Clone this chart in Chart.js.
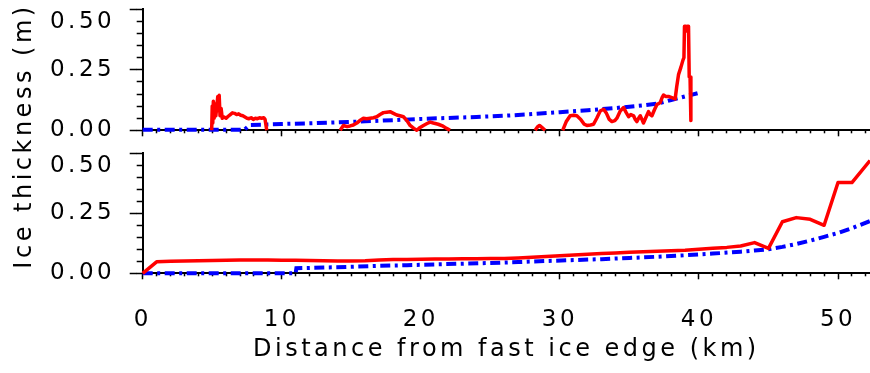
<!DOCTYPE html>
<html>
<head>
<meta charset="utf-8">
<script src="https://cdn.jsdelivr.net/npm/chart.js@4.4.1/dist/chart.umd.min.js"></script>
<style>
  html, body { margin: 0; padding: 0; background: #fff; width: 870px; height: 373px; overflow: hidden; }
  canvas { position: absolute; left: 0; }
  #cTop { top: 0; }
  #cBot { top: 140px; }
  #ytitle {
    position: absolute; left: -127px; top: 120.75px; width: 300px; height: 30px;
    line-height: 30px; text-align: center; white-space: nowrap;
    transform: rotate(-90deg);
    font-family: "DejaVu Sans"; font-size: 24px; letter-spacing: 3.5px; color: #000;
  }
</style>
</head>
<body>
<canvas id="cTop" width="870" height="142"></canvas>
<canvas id="cBot" width="870" height="233"></canvas>
<div id="ytitle">Ice thickness (m)</div>
<script>
// ---- profile data: distance (km) and ice thickness (m); null breaks a segment ----
const topObsKm = [
  4.96, 5.0, 5.04, 5.08, 5.14, 5.2, 5.26, 5.33, 5.4, 5.46, 5.5, 5.56, 5.64, 5.72, 5.85, 6.0, 6.15, 6.3,
  6.45, 6.6, 6.75, 6.9, 7.05, 7.2, 7.35, 7.5, 7.65, 7.8, 7.95, 8.1, 8.25, 8.4, 8.55, 8.7, 8.8, 8.92,
  9.0,
  14.2, 14.43, 14.7, 14.91, 15.15, 15.4, 15.65, 15.87, 16.1, 16.35, 16.6, 16.83, 17.07, 17.31, 17.55,
  17.79, 18.03, 18.27, 18.5, 18.75, 19.0, 19.23, 19.5, 19.71, 19.95, 20.19, 20.45, 20.67, 20.9, 21.25,
  21.6, 21.85, 22.1,
  22.2,
  28.22, 28.4, 28.53, 28.7, 28.94,
  29.0,
  30.2, 30.45, 30.74, 31.0, 31.22, 31.5, 31.75, 31.94, 32.2, 32.42, 32.65, 32.9, 33.14, 33.35, 33.55,
  33.74, 33.95, 34.1, 34.34, 34.58, 34.75, 34.94, 35.1, 35.3, 35.42, 35.54, 35.66, 35.78, 35.9, 36.01,
  36.2, 36.37, 36.5, 36.62, 36.8, 36.98, 37.1, 37.22, 37.35, 37.45, 37.6, 37.81, 38.05, 38.29, 38.4,
  38.53, 38.7, 38.85, 38.92, 38.96, 39.05, 39.12, 39.18, 39.25, 39.3, 39.36, 39.42
];
const topObsM = [
  0.0, 0.10, 0.03, 0.12, 0.05, 0.11, 0.06, 0.10, 0.14, 0.08, 0.145, 0.06, 0.09, 0.05, 0.055, 0.05, 0.058, 0.065,
  0.072, 0.07, 0.065, 0.068, 0.062, 0.06, 0.055, 0.05, 0.048, 0.052, 0.045, 0.05, 0.048, 0.052, 0.05, 0.052, 0.045, 0.0,
  null,
  0.0, 0.02, 0.015, 0.018, 0.022, 0.03, 0.042, 0.05, 0.048, 0.05, 0.052, 0.056, 0.065, 0.073, 0.075,
  0.077, 0.07, 0.063, 0.06, 0.056, 0.04, 0.02, 0.008, 0.0, 0.012, 0.02, 0.028, 0.034, 0.03, 0.025,
  0.017, 0.008, 0.0,
  null,
  0.0, 0.015, 0.02, 0.012, 0.0,
  null,
  0.0, 0.035, 0.06, 0.062, 0.06, 0.045, 0.025, 0.02, 0.022, 0.025, 0.05, 0.08, 0.087, 0.07, 0.045,
  0.036, 0.04, 0.05, 0.08, 0.094, 0.075, 0.056, 0.065, 0.06, 0.045, 0.036, 0.05, 0.06, 0.045, 0.03,
  0.055, 0.077, 0.065, 0.06, 0.085, 0.107, 0.11, 0.115, 0.135, 0.146, 0.14, 0.14, 0.135, 0.13, 0.18,
  0.23, 0.26, 0.29, 0.30, 0.43, 0.43, 0.41, 0.43, 0.43, 0.22, 0.22, 0.04
];
const topModelKm = [0, 7.3, 7.7, 10, 12, 14, 16, 18, 20, 22, 24, 26, 28, 30, 32, 34, 36, 37, 38, 39, 39.9];
const topModelM  = [0.002, 0.002, 0.022, 0.026, 0.029, 0.033, 0.037, 0.042, 0.047, 0.051, 0.055, 0.06,
                    0.067, 0.075, 0.083, 0.092, 0.103, 0.11, 0.125, 0.14, 0.153];

const botObsKm = [0, 1, 2, 3, 4, 5, 6, 7, 8, 9, 10, 11, 12, 13, 14, 15, 16, 17, 18, 19, 20, 21, 22, 23, 24,
                  25, 26, 27, 28, 29, 30, 31, 32, 33, 34, 35, 36, 37, 38, 39, 40, 41, 42, 43, 44, 45, 46,
                  47, 48, 49, 50, 51, 52.3];
const botObsM  = [0, 0.048, 0.05, 0.051, 0.052, 0.053, 0.054, 0.055, 0.055, 0.055, 0.054, 0.054, 0.053,
                  0.052, 0.051, 0.051, 0.052, 0.055, 0.057, 0.058, 0.059, 0.06, 0.06, 0.061, 0.061, 0.062,
                  0.062, 0.064, 0.067, 0.07, 0.073, 0.076, 0.079, 0.082, 0.085, 0.088, 0.09, 0.092, 0.094,
                  0.096, 0.10, 0.104, 0.108, 0.114, 0.128, 0.104, 0.215, 0.232, 0.225, 0.20, 0.378, 0.378, 0.47];
const botModelKm = [0, 11, 11.05, 13, 15, 17, 19, 21, 23, 25, 27, 29, 31, 33, 35, 37, 39, 41, 43, 44, 45,
                    46, 47, 48, 49, 50, 51, 52.3];
const botModelM  = [0, 0, 0.021, 0.024, 0.027, 0.031, 0.034, 0.037, 0.04, 0.043, 0.047, 0.051, 0.055, 0.059,
                    0.064, 0.069, 0.075, 0.082, 0.09, 0.095, 0.10, 0.11, 0.122, 0.136, 0.152, 0.168, 0.188, 0.218];

// ---- axis ticks ----
const xMajorTicks = [0, 10, 20, 30, 40, 50];
const yMajorTicks = [0, 0.25, 0.5];
const X_MAX = 52.3;
const Y_MAX = 0.5;
const X_MINOR_STEP = 1;
const Y_MINOR_STEP = 0.05;

const FONT = 'DejaVu Sans';
Chart.defaults.font.family = FONT;
Chart.defaults.color = '#000';

function pts(km, m) { return km.map((k, i) => ({ x: k, y: m[i] })); }
function seq(from, to, step) {
  const out = [];
  const n = Math.round((to - from) / step);
  for (let i = 0; i <= n; i++) out.push({ value: Math.round((from + i * step) * 1000) / 1000 });
  return out;
}

// wider glyph spacing for all canvas text
const textSpacing = { id: 'textSpacing', beforeDraw(chart) { chart.ctx.letterSpacing = '3.5px'; } };

// fixed axis sizes, without the extra room Chart.js reserves for end labels
function fixSize(s, w, h) {
  if (w !== null) s.width = w;
  if (h !== null) s.height = h;
  s.paddingTop = 0; s.paddingBottom = 0; s.paddingLeft = 0; s.paddingRight = 0;
}

function lineSets(obs, model) {
  return [
    { data: obs, xAxisID: 'x', yAxisID: 'y', borderColor: '#ff0000', borderWidth: 3.5,
      pointRadius: 0, borderJoinStyle: 'round', spanGaps: false, clip: false, tension: 0 },
    { data: model, xAxisID: 'x', yAxisID: 'y', borderColor: '#0000ff', borderWidth: 4,
      borderDash: [10, 4.5, 3, 4.5], pointRadius: 0, clip: false, tension: 0 }
  ];
}

function scales(showX) {
  const tickGrid = (len) => ({ drawOnChartArea: false, drawTicks: true, tickLength: len, tickColor: '#000', tickWidth: 1.5 });
  return {
    xMinor: {
      type: 'linear', position: 'bottom', weight: 0, min: 0, max: X_MAX,
      afterBuildTicks: s => { s.ticks = seq(0, Math.floor(X_MAX), X_MINOR_STEP); },
      ticks: { display: false, autoSkip: false }, grid: tickGrid(3),
      border: { display: true, color: '#000', width: 2 },
      afterFit: s => fixSize(s, null, 3)
    },
    x: {
      type: 'linear', position: 'bottom', weight: 1, min: 0, max: X_MAX,
      afterBuildTicks: s => { s.ticks = xMajorTicks.map(v => ({ value: v })); },
      ticks: { display: showX, padding: 27, maxRotation: 0, autoSkip: false,
               font: { family: FONT, size: 23 }, callback: v => String(v) },
      grid: tickGrid(3),
      border: { display: false },
      title: { display: showX, text: 'Distance from fast ice edge (km)',
               font: { family: FONT, size: 24, lineHeight: 1.2 }, padding: { top: 0, bottom: 8.6 } },
      afterFit: s => fixSize(s, null, showX ? 96.7 : 3)
    },
    yMinor: {
      type: 'linear', position: 'left', weight: 0, min: 0, max: Y_MAX,
      afterBuildTicks: s => { s.ticks = seq(0, Y_MAX, Y_MINOR_STEP); },
      ticks: { display: false, autoSkip: false }, grid: tickGrid(6),
      border: { display: true, color: '#000', width: 2 },
      afterFit: s => fixSize(s, 6, null)
    },
    y: {
      type: 'linear', position: 'left', weight: 1, min: 0, max: Y_MAX,
      afterBuildTicks: s => { s.ticks = yMajorTicks.map(v => ({ value: v })); },
      ticks: { padding: 14.5, autoSkip: false, font: { family: FONT, size: 23, lineHeight: '25px' },
               callback: v => (v === Y_MAX ? ['', v.toFixed(2)] : v.toFixed(2)) },
      grid: tickGrid(7),
      border: { display: false },
      afterFit: s => fixSize(s, 136.7, null)
    }
  };
}

function panel(id, obs, model, showX, padding) {
  return new Chart(document.getElementById(id), {
    type: 'line',
    data: { datasets: lineSets(obs, model) },
    options: {
      responsive: false, animation: false, devicePixelRatio: 1,
      layout: { padding },
      plugins: { legend: { display: false }, tooltip: { enabled: false } },
      scales: scales(showX)
    },
    plugins: [textSpacing]
  });
}

panel('cTop', pts(topObsKm, topObsM), pts(topModelKm, topModelM), false,
      { top: 9.3, bottom: 5.7, left: 0, right: 0 });
panel('cBot', pts(botObsKm, botObsM), pts(botModelKm, botModelM), true,
      { top: 13.3, bottom: 0, left: 0, right: 0 });
</script>
</body>
</html>
